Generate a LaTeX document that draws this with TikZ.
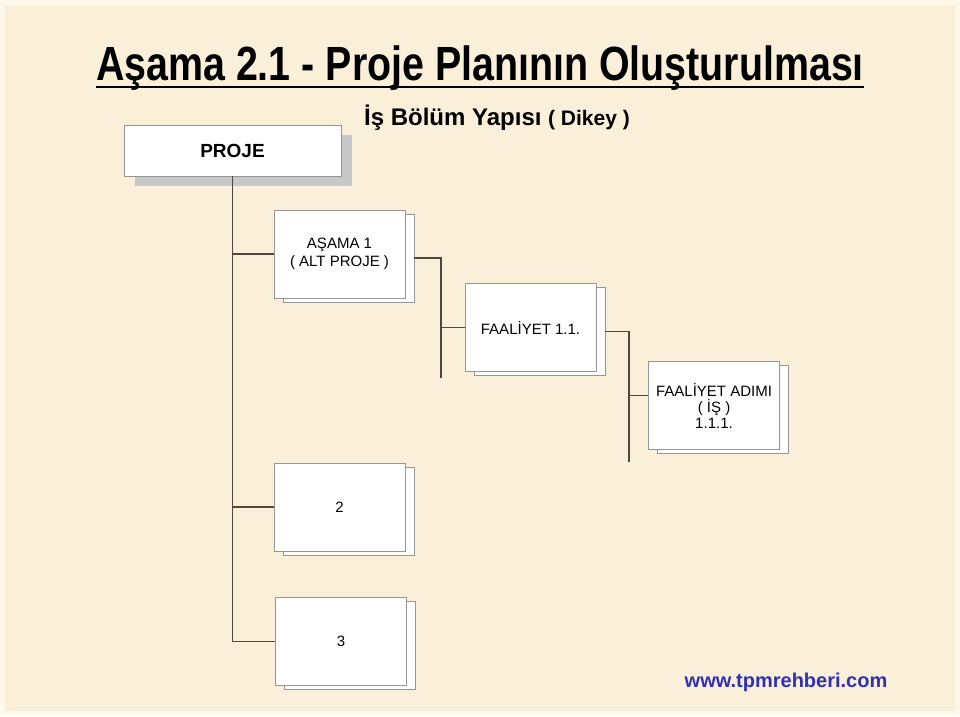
\documentclass[tikz,border=0pt]{standalone}
\usepackage{fontspec}
\setmainfont{Liberation Sans}
\newfontfamily\baslikfont{Liberation Sans Bold}[FakeStretch=0.82]
\usetikzlibrary{positioning, calc, shadows}

\definecolor{zemin}{RGB}{250,240,218}
\definecolor{kenar}{RGB}{253,248,234}
\definecolor{hat}{RGB}{80,72,62}
\definecolor{cerceve}{RGB}{150,150,150}
\definecolor{golge}{RGB}{200,200,200}
\definecolor{site}{RGB}{48,48,180}

\tikzset{
  kutu/.style={draw=cerceve, line width=0.8pt, fill=white,
    minimum width=131pt, minimum height=88pt, inner sep=0pt, align=center,
    font=\fontsize{15}{18}\selectfont,
    copy shadow={shadow xshift=9pt, shadow yshift=-4pt}},
  bag/.style={draw=hat, line width=1.4pt},
}

\begin{document}
\begin{tikzpicture}[x=1pt, y=-1pt]
        % background
        \fill[kenar] (0,0) rectangle (960,716);
        \fill[zemin] (5,5) rectangle (955,711);
        \useasboundingbox (0,0) rectangle (960,716);

        % titles
        \node[anchor=base, inner sep=0pt, font=\baslikfont\fontsize{48}{50}\selectfont] (baslik) at (480,80) {Aşama 2.1 - Proje Planının Oluşturulması};
        \draw[line width=2.6pt] ($(baslik.base west)+(0,7)$) -- ($(baslik.base east)+(0,7)$);
        \node[anchor=base, inner sep=0pt, font=\bfseries\fontsize{24}{26}\selectfont] (alt) at (497,125) {İş Bölüm Yapısı {\fontsize{21}{22}\selectfont( Dikey )}};

        % the boxes
        \node[draw=cerceve, fill=white, minimum width=217pt, minimum height=51pt, inner sep=0pt,
              font=\bfseries\fontsize{19}{20}\selectfont,
              drop shadow={shadow xshift=11pt, shadow yshift=-10pt, opacity=1, fill=golge}] (proje) at (232.5,150.5) {PROJE};
        \node[kutu] (asama) at (339.5,254) {AŞAMA 1\\( ALT PROJE )};
        \node[kutu] (faaliyet) at (530.5,327.5) {FAALİYET 1.1.};
        \node[kutu, font=\fontsize{15}{16}\selectfont] (adim) at (714,405.5) {FAALİYET ADIMI\\( İŞ )\\1.1.1.};
        \node[kutu] (iki) at (339.5,507) {2};
        \node[kutu] (uc) at (341,641.5) {3};

        % the connectors
        \coordinate (k1) at (441,378);
        \coordinate (k2) at (629,462);
        \draw[bag] (proje.south) |- (uc.west);
        \draw[bag] (proje.south |- asama.west) -- (asama.west);
        \draw[bag] (proje.south |- iki.west) -- (iki.west);
        \draw[bag] ($(asama.east)+(9,4)$) -| (k1);
        \draw[bag] (k1 |- faaliyet.west) -- (faaliyet.west);
        \draw[bag] ($(faaliyet.east)+(9,4)$) -| (k2);
        \draw[bag] ($(k2 |- adim.west)+(0,-10)$) -- ($(adim.west)+(0,-10)$);

        % web address
        \node[anchor=base, inner sep=0pt, text=site, font=\bfseries\fontsize{20}{22}\selectfont] (site) at (786,687) {www.tpmrehberi.com};
    \end{tikzpicture}
\end{document}
